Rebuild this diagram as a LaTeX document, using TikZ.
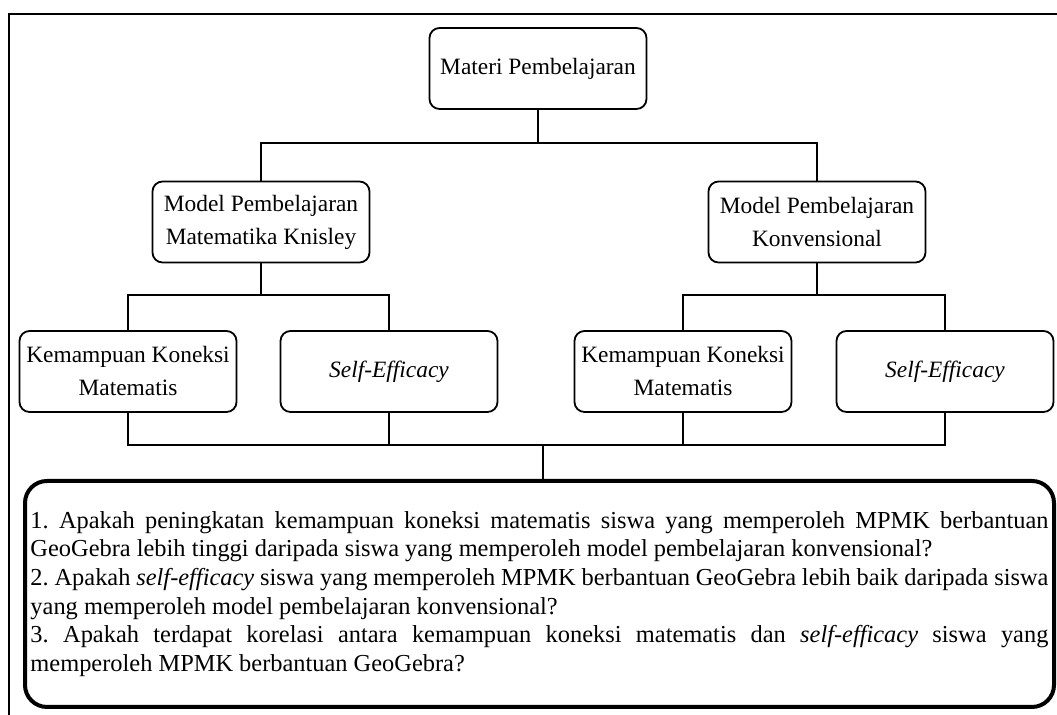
\documentclass[tikz,border=0pt]{standalone}
\usepackage{fontspec}
\setmainfont{Liberation Serif}
\usepackage{tikz}
\newcommand{\px}{0.5pt}

\begin{document}
\begin{tikzpicture}[box/.style={draw, rectangle, rounded corners=5pt, line width=0.9pt, minimum width=108.5*\px*2, minimum height=40.5*\px*2, inner sep=0pt, align=center, font=\fontsize{11.7pt}{16.5pt}\selectfont},
    bigbox/.style={draw, rectangle, rounded corners=11pt, line width=2pt, minimum width=1029*\px, minimum height=226*\px, inner xsep=2.75pt, inner ysep=0pt, text width=509pt, align=justify, font=\fontsize{12.2pt}{14.35pt}\selectfont},
    conn/.style={line width=1pt}]
    \useasboundingbox (0,0) rectangle (1057*\px,715*\px);
    % Frame
    \draw[line width=1pt] (9*\px,0) -- (9*\px,701*\px) -- (1057*\px,701*\px);

    % First row
    \node[box] (materi) at (538*\px,646.5*\px) {Materi Pembelajaran};

    % Second row
    \node[box] (knisley) at (261*\px,493*\px) {Model Pembelajaran\\Matematika Knisley};
    \node[box] (konv) at (817*\px,493*\px) {Model Pembelajaran\\Konvensional};

    % Third row
    \node[box] (koneksi-1) at (128*\px,343.5*\px) {Kemampuan Koneksi\\Matematis};
    \node[box] (efficacy-1) at (389*\px,343.5*\px) {\textit{Self-Efficacy}};
    \node[box] (koneksi-2) at (683*\px,343.5*\px) {Kemampuan Koneksi\\Matematis};
    \node[box] (efficacy-2) at (945*\px,343.5*\px) {\textit{Self-Efficacy}};

    % Questions
    \node[bigbox] (rumusan) at (539.5*\px,121*\px) {\parindent=0pt\hyphenpenalty=10000\frenchspacing
        1. Apakah peningkatan kemampuan koneksi matematis siswa yang memperoleh MPMK berbantuan\linebreak
        GeoGebra lebih tinggi daripada siswa yang memperoleh model pembelajaran konvensional?\par
        2. Apakah \textit{self-efficacy} siswa yang memperoleh MPMK berbantuan GeoGebra lebih baik daripada siswa\linebreak
        yang memperoleh model pembelajaran konvensional?\par
        3. Apakah terdapat korelasi antara kemampuan koneksi matematis dan \textit{self-efficacy} siswa yang\linebreak
        memperoleh MPMK berbantuan GeoGebra?\par};

    % Connectors
    \coordinate (bar-1) at (538*\px,572*\px);
    \coordinate (bar-2) at (261*\px,420*\px);
    \coordinate (bar-3) at (817*\px,420*\px);
    \coordinate (bar-4) at (543*\px,270*\px);

    \draw[conn] (materi.south) -- (bar-1) -| (knisley.north);
    \draw[conn] (bar-1) -| (konv.north);
    \draw[conn] (knisley.south) -- (bar-2) -| (koneksi-1.north);
    \draw[conn] (bar-2) -| (efficacy-1.north);
    \draw[conn] (konv.south) -- (bar-3) -| (koneksi-2.north);
    \draw[conn] (bar-3) -| (efficacy-2.north);
    \draw[conn] (koneksi-1.south) |- (bar-4) -| (efficacy-2.south);
    \draw[conn] (efficacy-1.south) -- (efficacy-1.south |- bar-4);
    \draw[conn] (koneksi-2.south) -- (koneksi-2.south |- bar-4);
    \draw[conn] (bar-4) -- (bar-4 |- rumusan.north);

\end{tikzpicture}
\end{document}
